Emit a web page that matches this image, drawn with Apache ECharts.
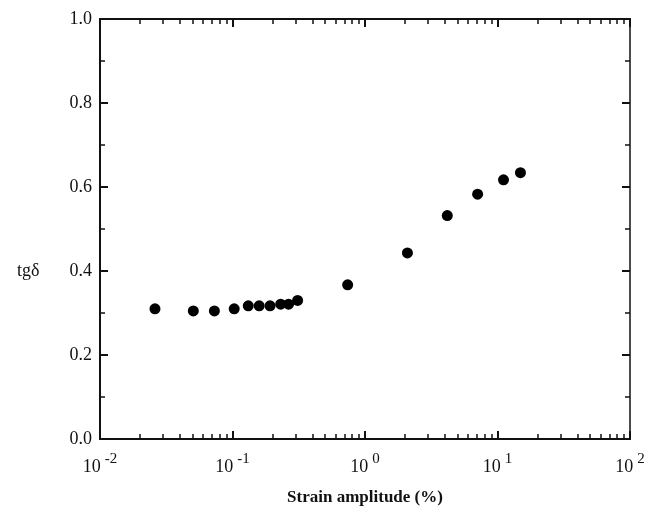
<!DOCTYPE html>
<html>
<head>
<meta charset="utf-8">
<script src="https://cdn.jsdelivr.net/npm/echarts@6/dist/echarts.min.js"></script>
<style>
  html, body { margin: 0; padding: 0; background: #fff; }
  #chart { width: 663px; height: 518px; }
</style>
</head>
<body>
<div id="chart"></div>
<script>
// strain amplitude (%) and loss tangent
const strain = [0.026, 0.0506, 0.073, 0.103, 0.1315, 0.159, 0.192, 0.231, 0.265, 0.31, 0.74, 2.09, 4.18, 7.08, 11.1, 14.9]
const tgDelta = [0.31, 0.305, 0.305, 0.31, 0.317, 0.317, 0.317, 0.321, 0.321, 0.33, 0.367, 0.443, 0.532, 0.583, 0.617, 0.634]

const decades = [0.01, 0.1, 1, 10]
const minorSteps = [2, 3, 4, 5, 6, 7, 8, 9]
const exponents = { 0.01: '-2', 0.1: '-1', 1: '0', 10: '1', 100: '2' }

// minor log ticks between each decade
const minorTicks = []
decades.forEach(d => minorSteps.forEach(m => minorTicks.push(+(d * m).toPrecision(3))))

const font = 'Liberation Serif, DejaVu Serif, serif'
const lineStyle = { color: '#111', width: 2 }

const chart = echarts.init(document.getElementById('chart'))

const baseX = {
  type: 'log',
  min: 0.01,
  max: 100,
  logBase: 10,
  splitLine: { show: false },
  axisLine: { show: true, onZero: false, lineStyle: lineStyle },
}

chart.setOption({
  animation: false,
  grid: { left: 100, right: 33, top: 19, bottom: 79 },
  // y-axis title sits below the axis middle in the original
  graphic: [
    {
      type: 'text',
      left: 17,
      top: 262,
      style: { text: 'tgδ', fontFamily: font, fontSize: 18, fill: '#111' }
    }
  ],
  xAxis: [
    Object.assign({}, baseX, {
      position: 'bottom',
      name: 'Strain amplitude (%)',
      nameLocation: 'middle',
      nameGap: 50,
      nameTextStyle: { fontFamily: font, fontSize: 17, fontWeight: 'bold', color: '#111' },
      axisTick: { inside: true, length: 8, lineStyle: { width: 2, color: '#111' } },
      axisLabel: {
        margin: 13,
        fontFamily: font,
        color: '#111',
        formatter: v => '{b|10}{s|' + (exponents[v] ?? '') + '}',
        rich: {
          b: { fontFamily: font, fontSize: 18, color: '#111' },
          s: { fontFamily: font, fontSize: 15, color: '#111', padding: [0, 0, 16, 4] }
        }
      }
    }),
    Object.assign({}, baseX, {
      position: 'bottom',
      axisLabel: { show: false },
      axisTick: { inside: true, length: 5, customValues: minorTicks, lineStyle: { width: 1.5, color: '#111' } }
    }),
    Object.assign({}, baseX, {
      position: 'top',
      axisLabel: { show: false },
      axisTick: { inside: true, length: 8, lineStyle: { width: 2, color: '#111' } }
    }),
    Object.assign({}, baseX, {
      position: 'top',
      axisLabel: { show: false },
      axisTick: { inside: true, length: 5, customValues: minorTicks, lineStyle: { width: 1.5, color: '#111' } }
    })
  ],
  yAxis: [
    {
      type: 'value',
      min: 0,
      max: 1,
      interval: 0.2,
      position: 'left',
      splitLine: { show: false },
      axisLine: { show: true, onZero: false, lineStyle: lineStyle },
      axisTick: { inside: true, length: 8, lineStyle: { width: 2, color: '#111' } },
      minorTick: { show: true, splitNumber: 2, length: 5, lineStyle: { width: 1.5, color: '#111' } },
      minorSplitLine: { show: false },
      axisLabel: {
        margin: 8,
        fontFamily: font,
        fontSize: 18,
        color: '#111',
        formatter: v => v.toFixed(1)
      }
    },
    {
      type: 'value',
      min: 0,
      max: 1,
      interval: 0.2,
      position: 'right',
      splitLine: { show: false },
      axisLine: { show: true, onZero: false, lineStyle: { color: '#111', width: 1.5 } },
      axisTick: { inside: true, length: 8, lineStyle: { width: 2, color: '#111' } },
      minorTick: { show: true, splitNumber: 2, length: 5, lineStyle: { width: 1.5, color: '#111' } },
      axisLabel: { show: false }
    }
  ],
  series: [
    {
      type: 'scatter',
      xAxisIndex: 0,
      yAxisIndex: 0,
      symbol: 'circle',
      symbolSize: 11,
      itemStyle: { color: '#000', opacity: 1 },
      data: strain.map((s, i) => [s, tgDelta[i]])
    }
  ]
})
</script>
</body>
</html>
